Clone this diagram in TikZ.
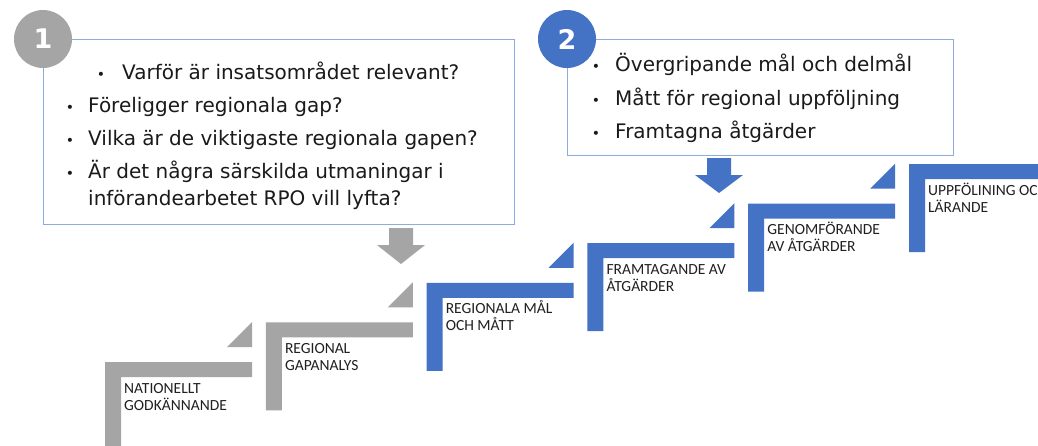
\documentclass[tikz,border=0pt]{standalone}
\usepackage{fontspec}
\setmainfont{DejaVu Sans}
\newfontfamily\calib{Carlito}
\definecolor{stepgray}{HTML}{A5A5A5}
\definecolor{stepblue}{HTML}{4472C4}
\definecolor{boxline}{HTML}{8FAADC}
\definecolor{txt}{HTML}{1A1A1A}
\definecolor{steptxt}{HTML}{202020}
\tikzset{
  infobox/.style={draw=boxline, line width=1.3pt, fill=white, anchor=north west, inner sep=0pt},
  numcircle/.style={circle, minimum size=58pt, inner sep=0pt, text=white, font=\fontsize{27}{27}\selectfont\bfseries},
  bul/.style={anchor=base, inner sep=0pt, text=txt, font=\fontsize{14}{14}\selectfont},
  line/.style={anchor=base west, inner sep=0pt, text=txt, font=\fontsize{20}{20}\selectfont},
  steplbl/.style={anchor=base west, inner sep=0pt, text=steptxt, font=\calib\fontsize{15.5}{15.5}\selectfont}
}
\begin{document}
\begin{tikzpicture}[x=1pt,y=-1pt]
\useasboundingbox (0,0) rectangle (1038,445);
\clip (0,0) rectangle (1038,445);
\fill[white] (0,0) rectangle (1038,445);

% ---- box 1
\node[infobox, minimum width=471pt, minimum height=185pt] (box1) at (43,39) {};
\node[numcircle, fill=stepgray] (c1) at (box1.north west) {1};
\node[bul] (b1a) at (101,79) {•};
\node[line] (t1a) at (122,79) {Varför är insatsområdet relevant?};
\node[bul] (b1b) at (70,112) {•};
\node[line] (t1b) at (88,112) {Föreligger regionala gap?};
\node[bul] (b1c) at (70,145) {•};
\node[line] (t1c) at (88,145) {Vilka är de viktigaste regionala gapen?};
\node[bul] (b1d) at (70,178) {•};
\node[line] (t1d) at (88,178) {Är det några särskilda utmaningar i};
\node[line] (t1e) at (88,205) {införandearbetet RPO vill lyfta?};

% ---- box 2
\node[infobox, minimum width=386pt, minimum height=116pt] (box2) at (567,39) {};
\node[numcircle, fill=stepblue] (c2) at (box2.north west) {2};
\node[bul] (b2a) at (596,71) {•};
\node[line] (t2a) at (615,71) {Övergripande mål och delmål};
\node[bul] (b2b) at (596,105) {•};
\node[line] (t2b) at (615,105) {Mått för regional uppföljning};
\node[bul] (b2c) at (596,138) {•};
\node[line] (t2c) at (615,138) {Framtagna åtgärder};

% ---- block arrows
\fill[stepgray] (389,228) -- (413,228) -- (413,245) -- (425,245) -- (401,264)
  -- (377,245) -- (389,245) -- cycle;
\fill[stepblue] (707,158) -- (731,158) -- (731,175) -- (743,175) -- (719,193)
  -- (695,175) -- (707,175) -- cycle;

% ---- steps
\foreach \i/\col/\la/\lb/\tri in {
  1/stepgray/NATIONELLT/GODKÄNNANDE/1,
  2/stepgray/REGIONAL/GAPANALYS/1,
  3/stepblue/REGIONALA MÅL/OCH MÅTT/1,
  4/stepblue/FRAMTAGANDE AV/ÅTGÄRDER/1,
  5/stepblue/GENOMFÖRANDE/AV ÅTGÄRDER/1,
  6/stepblue/UPPFÖLINING OCH/LÄRANDE/0}{
  \pgfmathsetmacro{\xo}{105+160.8*(\i-1)}
  \pgfmathsetmacro{\yo}{362-39.6*(\i-1)}
  \fill[\col] (\xo,\yo) -- ++(147,0) -- ++(0,15) -- ++(-131,0) -- ++(0,73)
     -- ++(-16,0) -- cycle;
  \ifnum\tri=1
    \fill[\col] (\xo+122,\yo-15) -- (\xo+147,\yo-15) -- (\xo+147,\yo-40) -- cycle;
  \fi
  \node[steplbl] (s\i a) at (\xo+19,\yo+31) {\la};
  \node[steplbl] (s\i b) at (\xo+19,\yo+48) {\lb};
}
\end{tikzpicture}
\end{document}
